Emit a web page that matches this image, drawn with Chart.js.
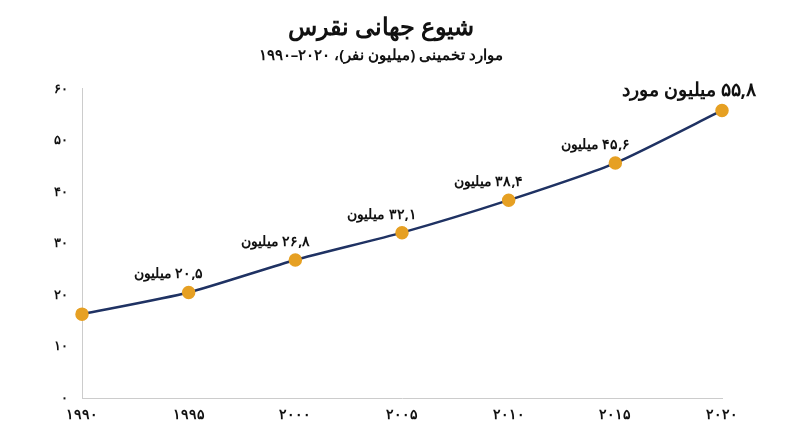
<!DOCTYPE html>
<html><head><meta charset="utf-8">
<script src="https://cdn.jsdelivr.net/npm/chart.js@4"></script>
<style>html,body{margin:0;background:#fff}#w{width:800px;height:447px}</style>
</head><body><div id="w"><canvas id="c"></canvas></div>
<script>
const years = ['۱۹۹۰','۱۹۹۵','۲۰۰۰','۲۰۰۵','۲۰۱۰','۲۰۱۵','۲۰۲۰'];
const cases = [16.3, 20.5, 26.8, 32.1, 38.4, 45.6, 55.8];
const pointLabels = ['', '۲۰,۵ میلیون', '۲۶,۸ میلیون', '۳۲,۱ میلیون', '۳۸,۴ میلیون', '۴۵,۶ میلیون', '۵۵,۸ میلیون مورد'];
const yTicks = {0:'۰',10:'۱۰',20:'۲۰',30:'۳۰',40:'۴۰',50:'۵۰',60:'۶۰'};
const F = '"Noto Sans", sans-serif';
const labelPlugin = {
  id:'lbl',
  afterDatasetsDraw(ch){
    const ctx = ch.ctx, meta = ch.getDatasetMeta(0);
    ctx.save(); ctx.fillStyle='#111'; ctx.textBaseline='alphabetic';
    meta.data.forEach((p,i)=>{
      const t = pointLabels[i]; if(!t) return;
      const last = i===pointLabels.length-1;
      ctx.font = (last?'bold 19px ':'bold 14px ')+F;
      ctx.textAlign = last?'right':'center';
      ctx.direction='rtl';
      ctx.fillText(t, last? p.x+34 : p.x-20, last? p.y-14 : p.y-14);
    });
    ctx.restore();
  }
};
new Chart(document.getElementById('c'), {
  type:'line',
  data:{labels:years, datasets:[{data:cases, borderColor:'#1f3263', borderWidth:2.5, tension:0.2,
    pointBackgroundColor:'#e6a023', pointBorderColor:'#e6a023', pointRadius:5.5, pointHoverRadius:5.5}]},
  plugins:[labelPlugin],
  options:{responsive:true, maintainAspectRatio:false, animation:false,
    layout:{padding:{left:40, right:78, top:0, bottom:16}},
    plugins:{legend:{display:false}, tooltip:{enabled:false},
      title:{display:true, text:'شیوع جهانی نقرس', color:'#111', font:{family:F, size:24, weight:'bold'}, padding:{top:14,bottom:4}},
      subtitle:{display:true, text:'موارد تخمینی (میلیون نفر)، ۲۰۲۰–۱۹۹۰', color:'#111', font:{family:F, size:15, weight:'bold'}, padding:{bottom:24}}},
    scales:{
      x:{offset:false, grid:{display:false, drawTicks:false}, border:{color:'#ccc'},
        ticks:{color:'#111', font:{family:F, size:14, weight:'bold'}, padding:8}},
      y:{min:0, max:60, grid:{display:false, drawTicks:false}, border:{color:'#ccc'},
        ticks:{stepSize:10, color:'#111', font:{family:F, size:13, weight:'bold'}, padding:14, callback:v=>yTicks[v]}}
    }}
});
</script></body></html>
